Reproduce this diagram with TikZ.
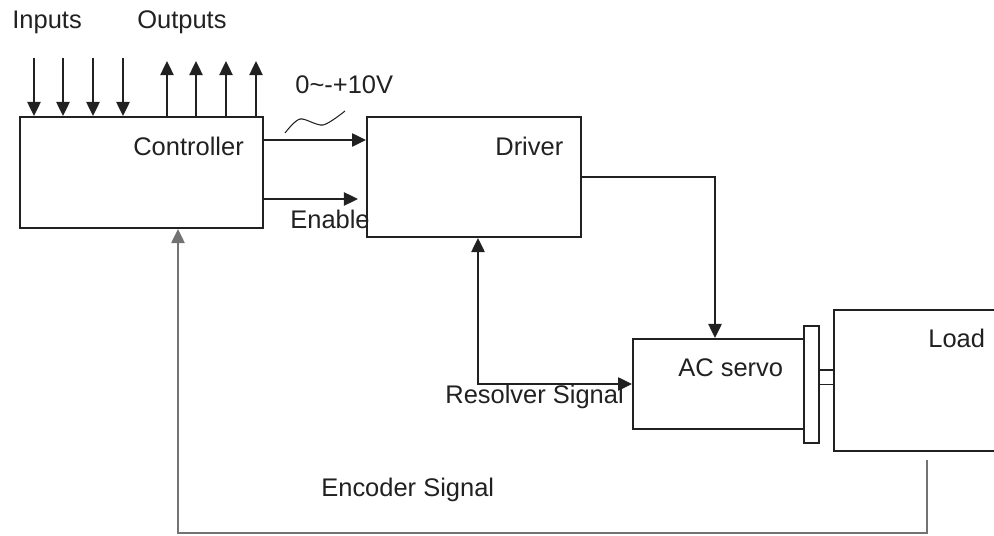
\documentclass[tikz,border=0pt]{standalone}
\usepackage{fontspec}
\setmainfont{Liberation Sans}
\usepackage{tikz}
\usetikzlibrary{arrows.meta,calc,positioning}
\definecolor{darkline}{rgb}{0.13,0.13,0.13}
\definecolor{encgray}{rgb}{0.45,0.45,0.45}

\begin{document}
\begin{tikzpicture}[x=0.02cm,y=-0.02cm,
    box/.style={draw=darkline,line width=1.1pt,inner sep=0,rectangle},
    lbl/.style={inner sep=0,anchor=west,text=darkline,font=\fontsize{14.5}{17}\selectfont},
    sig/.style={draw=darkline,line width=1.1pt,-{Triangle[length=8pt,width=7.5pt]}},
    bisig/.style={draw=darkline,line width=1.1pt,{Triangle[length=8pt,width=7.5pt]}-{Triangle[length=8pt,width=7.5pt]}}]
          \useasboundingbox (0,0) rectangle (994,536);
          % Blocks
          \node[box,minimum width=4.86cm,minimum height=2.22cm] (ctrl) at (141.5,172.5) {};
          \node[box,minimum width=4.28cm,minimum height=2.4cm] (drv) at (474,177) {};
          \node[box,minimum width=3.42cm,minimum height=1.8cm] (srv) at (718.5,384) {};
          \node[box,minimum width=0.3cm,minimum height=2.34cm] (fl) at (811.5,384.5) {};
          \node[box,minimum width=3.32cm,minimum height=2.82cm] (ld) at (917,380.5) {};
          % Labels
          \node[lbl] (inlbl) at (12,22) {Inputs};
          \node[lbl] (outlbl) at (137,22) {Outputs};
          \node[lbl] (vlbl) at (295,85) {0\textasciitilde-+10V};
          \node[lbl] (ctrllbl) at (133,146) {Controller};
          \node[lbl] (enlbl) at (290,219) {Enable};
          \node[lbl] (drvlbl) at (495,146) {Driver};
          \node[lbl] (srvlbl) at (678,368) {AC servo};
          \node[lbl] (ldlbl) at (928,338) {Load};
          \node[lbl] (reslbl) at (445,397) {Resolver Signal};
          \node[lbl] (enclbl) at (321,490) {Encoder Signal};
          % Inputs and outputs
          \coordinate (in1) at (34,58);
          \coordinate (in2) at (63,58);
          \coordinate (in3) at (93,58);
          \coordinate (in4) at (123,58);
          \coordinate (out1) at (167,61);
          \coordinate (out2) at (196,61);
          \coordinate (out3) at (226,61);
          \coordinate (out4) at (256,61);
          \draw[sig] (in1) -- (in1 |- ctrl.north);
          \draw[sig] (in2) -- (in2 |- ctrl.north);
          \draw[sig] (in3) -- (in3 |- ctrl.north);
          \draw[sig] (in4) -- (in4 |- ctrl.north);
          \draw[sig] (out1 |- ctrl.north) -- (out1);
          \draw[sig] (out2 |- ctrl.north) -- (out2);
          \draw[sig] (out3 |- ctrl.north) -- (out3);
          \draw[sig] (out4 |- ctrl.north) -- (out4);
          % Command and enable
          \draw[sig] ([yshift=0.65cm]ctrl.east) -- ([yshift=0.65cm]ctrl.east -| drv.west);
          \coordinate (en) at (358,199);
          \draw[sig] (ctrl.east |- en) -- (en);
          \draw[darkline,line width=0.6pt] plot[smooth] coordinates {(285,133) (300,119) (323,125) (345,111)};
          % Driver to servo, resolver back
          \draw[sig] (drv.east) -| ([xshift=-0.07cm]srv.north);
          \draw[bisig] ([xshift=0.08cm]drv.south) |- (srv.west);
          % Shaft
          \draw[darkline,line width=1pt] ([yshift=0.29cm]fl.east) -- ([yshift=0.29cm]fl.east -| ld.west);
          \draw[darkline,line width=1pt] (fl.east) -- (fl.east -| ld.west);
          % Encoder feedback
          \coordinate (enc) at (927,460);
          \draw[sig,draw=encgray] (enc) -- ++(0,73) -| ([xshift=0.73cm]ctrl.south);
        \end{tikzpicture}
\end{document}
